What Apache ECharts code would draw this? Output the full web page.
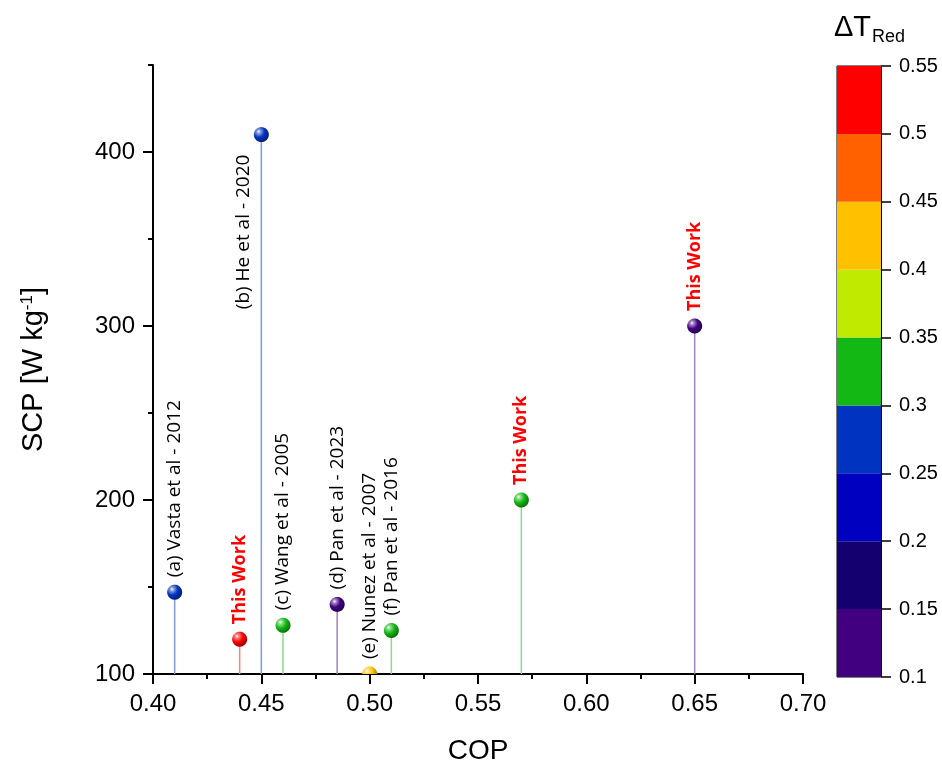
<!DOCTYPE html>
<html><head><meta charset="utf-8">
<script src="https://cdn.jsdelivr.net/npm/echarts@6/dist/echarts.min.js"></script>
<style>html,body{margin:0;padding:0;background:#fff}#c{width:942px;height:776px}</style>
</head><body><div id="c"></div>
<script>
// ---- data ----
const pointLabels = ['(a) Vasta et al - 2012','This Work','(b) He et al - 2020','(c) Wang et al - 2005','(d) Pan et al - 2023','(e) Nunez et al - 2007','(f) Pan et al - 2016','This Work','This Work'];
const copValues = [0.41, 0.44, 0.45, 0.46, 0.485, 0.50, 0.51, 0.57, 0.65];
const scpValues = [147, 120, 410, 128, 140, 100, 125, 200, 300];
const dTValues  = [0.28, 0.52, 0.28, 0.32, 0.12, 0.42, 0.32, 0.33, 0.12];
const cbBreaks  = [0.1, 0.15, 0.2, 0.25, 0.3, 0.35, 0.4, 0.45, 0.5, 0.55];
const cbColors  = ['#400080','#14006e','#0000c0','#0033c0','#14b814','#c0ea00','#ffc000','#ff6000','#ff0000'];
const yMajorTicks = [100, 200, 300, 400];
const yMinorTicks = [150, 250, 350, 450];
const X_MIN = 0.40, X_MAX = 0.70, Y_MIN = 100, Y_MAX = 450;

// ---- styles ----
const AX_FONT = 'Liberation Sans';
const LBL_FONT = 'Open Sans';
const leftPlaced = {'(b) He et al - 2020': true};

function bandColor(v){
  for (let i = 0; i < cbColors.length; i++) {
    if (v >= cbBreaks[i] && v < cbBreaks[i+1]) return cbColors[i];
  }
  return cbColors[cbColors.length-1];
}
function hex2rgb(h){ h = h.replace('#',''); return [parseInt(h.substr(0,2),16),parseInt(h.substr(2,2),16),parseInt(h.substr(4,2),16)]; }
function mix(c, t, f){ const a = hex2rgb(c), b = hex2rgb(t); return 'rgb(' + a.map((x,i)=>Math.round(x*(1-f)+b[i]*f)).join(',') + ')'; }

const seriesData = copValues.map((x, i) => [x, scpValues[i], dTValues[i]]);

function renderItem(params, api){
  const i = params.dataIndex;
  const x = api.value(0), y = api.value(1), v = api.value(2);
  const p = api.coord([x, y]);
  const base = api.coord([x, Y_MIN]);
  const cs = params.coordSys;
  const bottom = cs.y + cs.height;
  const col = bandColor(v);
  const r = 7.5;
  const pts = [];
  for (let k = 0; k < 64; k++) {
    const a = k / 64 * 2 * Math.PI;
    pts.push([p[0] + r * Math.cos(a), Math.min(p[1] + r * Math.sin(a), bottom)]);
  }
  const grad = new echarts.graphic.RadialGradient(p[0] - r*0.35, p[1] - r*0.4, r*1.55, [
    {offset: 0, color: '#ffffff'},
    {offset: 0.15, color: mix(col, '#ffffff', 0.55)},
    {offset: 0.5, color: col},
    {offset: 1, color: mix(col, '#000000', 0.45)}
  ], true);
  const name = pointLabels[i];
  const isThis = name === 'This Work';
  let tx, ty, align;
  if (leftPlaced[name]) { tx = p[0] - 18; ty = p[1] + 20; align = 'right'; }
  else { tx = p[0]; ty = p[1] - 15; align = 'left'; }
  return {
    type: 'group',
    children: [
      {type: 'line', shape: {x1: p[0], y1: p[1], x2: base[0], y2: base[1]}, style: {stroke: mix(col, '#ffffff', 0.5), lineWidth: 1.5}},
      {type: 'polygon', shape: {points: pts}, style: {fill: grad}},
      {type: 'text', x: tx, y: ty, rotation: Math.PI/2,
        style: {text: name, x: 0, y: 0, align: align, verticalAlign: 'middle',
          fill: isThis ? '#ff0000' : '#000000', fontSize: isThis ? 18 : 19,
          fontWeight: isThis ? 'bold' : 'normal', fontFamily: LBL_FONT}}
    ]
  };
}

const cbSeries = [{
  type: 'bar', xAxisIndex: 1, yAxisIndex: 2, stack: 'cb', barWidth: '100%', silent: true,
  data: [cbBreaks[0]], itemStyle: {color: 'rgba(0,0,0,0)'}
}];
for (let i = 0; i < cbColors.length; i++) {
  cbSeries.push({
    type: 'bar', xAxisIndex: 1, yAxisIndex: 2, stack: 'cb', barWidth: '100%', silent: true,
    data: [+(cbBreaks[i+1] - cbBreaks[i]).toFixed(4)], itemStyle: {color: cbColors[i]}
  });
}

const chart = echarts.init(document.getElementById('c'), null, {renderer: 'canvas'});
chart.setOption({
  backgroundColor: '#ffffff',
  animation: false,
  title: {
    left: 829, top: 8,
    text: '{a|ΔT}{b|Red}',
    textStyle: {fontWeight: 'normal', rich: {
      a: {fontSize: 29, fontWeight: 'normal', fontFamily: AX_FONT, color: '#000', verticalAlign: 'top'},
      b: {fontSize: 18, fontWeight: 'normal', fontFamily: AX_FONT, color: '#000', verticalAlign: 'top', padding: [15, 0, 0, 1]}
    }}
  },
  grid: [
    {left: 153, top: 65, width: 650, height: 609, outerBoundsMode: 'none'},
    {left: 837, top: 66, width: 44, height: 611, show: true, borderColor: '#000', borderWidth: 1, backgroundColor: 'rgba(0,0,0,0)', outerBoundsMode: 'none'}
  ],
  xAxis: [
    {
      type: 'value', gridIndex: 0, min: X_MIN, max: X_MAX, interval: 0.05,
      name: 'COP', nameLocation: 'middle', nameGap: 63,
      nameTextStyle: {fontSize: 28, fontFamily: AX_FONT, color: '#000'},
      axisLine: {show: true, onZero: false, lineStyle: {color: '#000', width: 2}},
      axisTick: {show: true, inside: false, length: 10, lineStyle: {color: '#000', width: 2}},
      minorTick: {show: true, splitNumber: 2, length: 5, lineStyle: {color: '#000', width: 2}},
      axisLabel: {fontSize: 24, fontFamily: AX_FONT, color: '#000', margin: 18, formatter: v => v.toFixed(2)},
      splitLine: {show: false}, minorSplitLine: {show: false}
    },
    {type: 'category', gridIndex: 1, data: [''], show: false}
  ],
  yAxis: [
    {
      type: 'value', gridIndex: 0, min: Y_MIN, max: Y_MAX, interval: 50, position: 'left',
      name: 'SCP [W kg{sup|-1}]', nameLocation: 'middle', nameGap: 105, nameRotate: 90,
      nameTextStyle: {fontSize: 29, fontFamily: AX_FONT, color: '#000',
        rich: {sup: {fontSize: 17, fontFamily: AX_FONT, color: '#000', verticalAlign: 'top'}}},
      axisLine: {show: true, onZero: false, lineStyle: {color: '#000', width: 2}},
      axisTick: {show: true, inside: false, length: 10, customValues: yMajorTicks, lineStyle: {color: '#000', width: 2}},
      axisLabel: {fontSize: 24, fontFamily: AX_FONT, color: '#000', margin: 18, customValues: yMajorTicks},
      splitLine: {show: false}
    },
    {
      type: 'value', gridIndex: 0, min: Y_MIN, max: Y_MAX, interval: 50, position: 'left', offset: 0,
      axisLine: {show: false},
      axisTick: {show: true, inside: false, length: 5, customValues: yMinorTicks, lineStyle: {color: '#000', width: 2}},
      axisLabel: {show: false}, splitLine: {show: false}
    },
    {
      type: 'value', gridIndex: 1, min: cbBreaks[0], max: cbBreaks[cbBreaks.length-1], interval: 0.05, position: 'right',
      axisLine: {show: true, lineStyle: {color: '#000', width: 1}},
      axisTick: {show: true, inside: false, length: 10, lineStyle: {color: '#000', width: 1.5}},
      axisLabel: {fontSize: 20, fontFamily: AX_FONT, color: '#000', margin: 18},
      splitLine: {show: false}
    }
  ],
  series: [
    {
      type: 'custom', xAxisIndex: 0, yAxisIndex: 0, renderItem: renderItem,
      encode: {x: 0, y: 1}, data: seriesData, z: 5, clip: false
    }
  ].concat(cbSeries)
});
</script></body></html>
